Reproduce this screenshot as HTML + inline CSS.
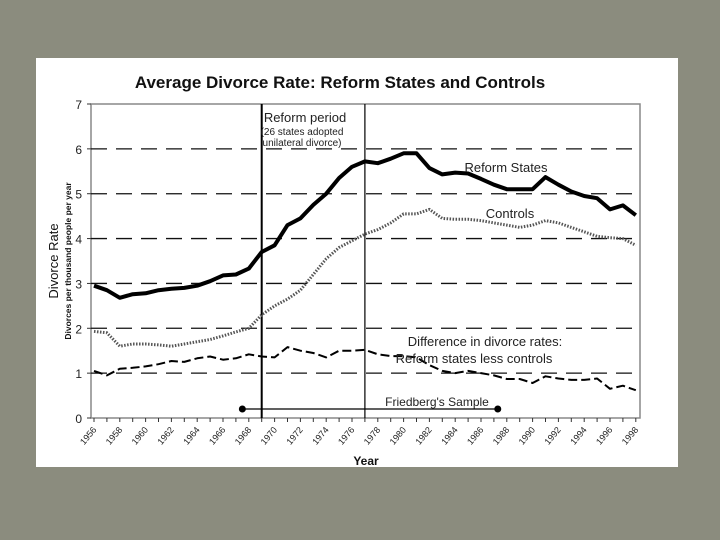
<!DOCTYPE html>
<html><head><meta charset="utf-8"><style>
body{margin:0;width:720px;height:540px;background:#8b8c7e;overflow:hidden;font-family:"Liberation Sans",sans-serif}
#card{position:absolute;left:36px;top:58px;width:642px;height:409px;background:#fff}
svg{position:absolute;left:0;top:0}
</style></head><body>
<div id="card"></div>
<svg id="chart" width="720" height="540"></svg>
<script>
const years=[];for(let y=1956;y<=1998;y++)years.push(y);
const reformStates=[2.95,2.85,2.68,2.76,2.78,2.85,2.88,2.9,2.95,3.05,3.18,3.2,3.33,3.7,3.85,4.3,4.45,4.75,5.0,5.35,5.6,5.72,5.68,5.78,5.9,5.9,5.57,5.43,5.47,5.45,5.33,5.2,5.1,5.1,5.1,5.37,5.2,5.05,4.95,4.9,4.65,4.74,4.52];
const controls=[1.93,1.9,1.6,1.65,1.65,1.63,1.6,1.65,1.7,1.75,1.83,1.92,2.0,2.3,2.5,2.65,2.85,3.2,3.55,3.8,3.95,4.1,4.2,4.35,4.55,4.55,4.65,4.45,4.43,4.43,4.4,4.35,4.3,4.25,4.3,4.4,4.35,4.25,4.15,4.05,4.02,4.0,3.85];
const difference=[1.05,0.95,1.1,1.12,1.15,1.2,1.27,1.25,1.33,1.37,1.3,1.33,1.42,1.37,1.35,1.58,1.5,1.45,1.35,1.5,1.5,1.52,1.42,1.38,1.38,1.35,1.18,1.05,1.0,1.05,1.0,0.95,0.87,0.87,0.78,0.93,0.88,0.85,0.85,0.88,0.65,0.72,0.62];
const yTicks=[0,1,2,3,4,5,6,7];
const reformLines=[1969,1977];
const friedberg=[1967.5,1987.3];
const friedbergY=0.2;

const svg=document.getElementById('chart');const NS='http://www.w3.org/2000/svg';
const L=91,R=640,T=104,B=418,x0=94,dx=12.9;
const X=y=>x0+(y-1956)*dx, Y=v=>B-(v/7)*(B-T);
function mk(t,a,p){const e=document.createElementNS(NS,t);for(const k in a)e.setAttribute(k,a[k]);(p||svg).appendChild(e);return e;}
function txt(s,a){const e=mk('text',a);e.textContent=s;return e;}
const title=txt('Average Divorce Rate: Reform States and Controls',{x:340,y:88,'text-anchor':'middle','font-size':17,'font-weight':'bold',fill:'#111'});

const frame=mk('rect',{x:L,y:T,width:R-L,height:B-T,fill:'none',stroke:'#888','stroke-width':1.5});

yTicks.forEach(v=>{
 if(v>0&&v<7){const g=mk('line',{x1:L,x2:R,y1:Y(v),y2:Y(v),stroke:'#111','stroke-width':1.3,'stroke-dasharray':'16 9'});
 }
 const t=txt(String(v),{x:L-9,y:Y(v)+5,'text-anchor':'end','font-size':12,fill:'#222'});
 
 mk('line',{x1:L-4,x2:L,y1:Y(v),y2:Y(v),stroke:'#333'});
});
years.forEach(y=>{mk('line',{x1:X(y),x2:X(y),y1:B,y2:B+4,stroke:'#333'});
 if(y%2===0){const t=txt(String(y),{x:X(y)+3,y:B+12,'text-anchor':'end','font-size':9,fill:'#222',transform:`rotate(-50 ${X(y)+3} ${B+12})`});
 }});
reformLines.forEach((y,i)=>{const l=mk('line',{x1:X(y),x2:X(y),y1:T,y2:B,stroke:'#000','stroke-width':i?1.2:2});
 });
function path(arr,a,name){const d=arr.map((v,i)=>(i?'L':'M')+X(years[i]).toFixed(1)+' '+Y(v).toFixed(1)).join(' ');
 const p=mk('path',Object.assign({d:d,fill:'none','stroke-linejoin':'round'},a));}
path(controls,{stroke:'#555','stroke-width':3,'stroke-dasharray':'1.5 1.5'},'controls-line');
path(difference,{stroke:'#000','stroke-width':2,'stroke-dasharray':'9 4'},'difference-line');
path(reformStates,{stroke:'#000','stroke-width':4},'reform-states-line');
const fl=mk('line',{x1:X(friedberg[0]),x2:X(friedberg[1]),y1:Y(friedbergY),y2:Y(friedbergY),stroke:'#000','stroke-width':1.3});

friedberg.forEach(y=>{const c=mk('circle',{cx:X(y),cy:Y(friedbergY),r:3.5,fill:'#000'});});
const lab=[['Reform period',305,122,13],['(26 states adopted',302,135,10],['unilateral divorce)',302,146,10],['Reform States',506,172,13],['Controls',510,218,13],['Difference in divorce rates:',485,346,13],['Reform states less controls',474,363,13],["Friedberg's Sample",437,406,12]];
lab.forEach(l=>{const t=txt(l[0],{x:l[1],y:l[2],'text-anchor':'middle','font-size':l[3],fill:'#222'});});
const yt=txt('Divorce Rate',{x:58,y:261,'text-anchor':'middle','font-size':13,fill:'#111',transform:'rotate(-90 58 261)'});

const ys=txt('Divorces per thousand people per year',{x:71,y:261,'text-anchor':'middle','font-size':8.5,'font-weight':'bold',fill:'#111',transform:'rotate(-90 71 261)'});

const xt=txt('Year',{x:366,y:465,'text-anchor':'middle','font-size':12,'font-weight':'bold',fill:'#111'});

</script></body></html>
